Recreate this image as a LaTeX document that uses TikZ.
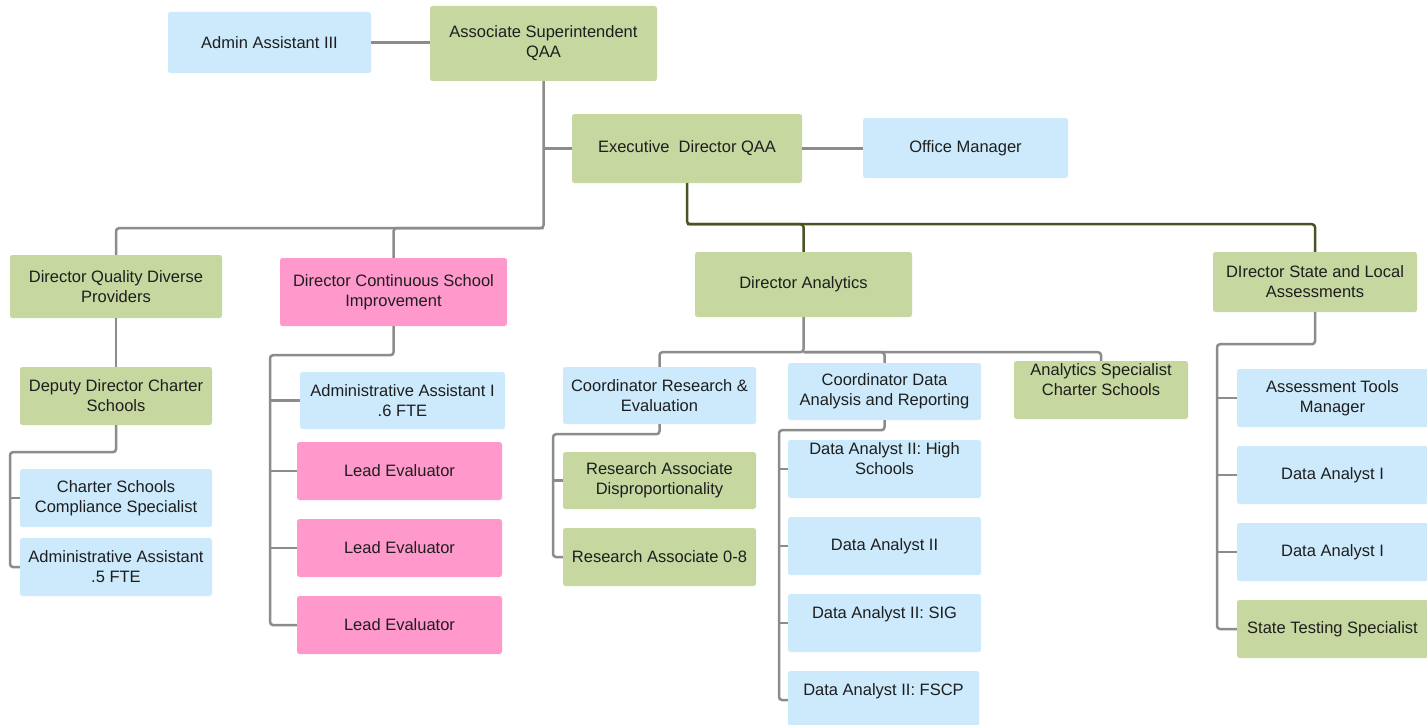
\documentclass[tikz,border=0pt]{standalone}
\usepackage{fontspec}
\setmainfont{Liberation Sans}
\definecolor{boxblue}{RGB}{204,234,252}
\definecolor{boxgreen}{RGB}{198,215,160}
\definecolor{boxpink}{RGB}{255,153,204}
\definecolor{linegray}{RGB}{140,140,140}
\definecolor{lineolive}{RGB}{74,83,34}
\definecolor{ink}{RGB}{30,30,30}
\tikzset{
  orgbase/.style={rounded corners=2.5pt, inner sep=2pt, align=center, text=ink,
    font=\fontsize{16.5}{20}\selectfont},
  bluebox/.style={orgbase, fill=boxblue},
  greenbox/.style={orgbase, fill=boxgreen},
  pinkbox/.style={orgbase, fill=boxpink},
  gl/.style={draw=linegray, line width=2.5pt, rounded corners=3pt},
  dl/.style={draw=lineolive, line width=2.5pt, rounded corners=3pt},
}
% #1 style, #2 name, #3 left, #4 top, #5 right, #6 bottom, #7 text
\newcommand\orgnode[7]{%
  \pgfmathsetmacro\orgw{#5-#3}\pgfmathsetmacro\orgh{#6-#4}%
  \node[#1, minimum width=\orgw pt, minimum height=\orgh pt] (#2)
    at ({(#3+#5)/2},{(#4+#6)/2}) {#7};}
\begin{document}
\begin{tikzpicture}[x=1pt,y=-1pt]
\clip (0,0) rectangle (1427,725);
\fill[white] (0,0) rectangle (1427,725);

% top level
\orgnode{bluebox}{aa3}{168}{12}{371}{73}{Admin Assistant III}
\orgnode{greenbox}{asup}{430}{6}{657}{81}{Associate Superintendent\\QAA}
\orgnode{greenbox}{exec}{572}{114}{802}{183}{Executive\ \ Director QAA}
\orgnode{bluebox}{om}{863}{118}{1068}{178}{Office Manager}

% directors
\orgnode{greenbox}{dqdp}{10}{255}{222}{318}{Director Quality Diverse\\Providers}
\orgnode{pinkbox}{dcsi}{280}{258}{507}{326}{Director Continuous School\\Improvement}
\orgnode{greenbox}{dan}{695}{252}{912}{317}{Director Analytics}
\orgnode{greenbox}{dsla}{1213}{252}{1417}{312}{DIrector State and Local\\Assessments}

% diverse providers
\orgnode{greenbox}{ddcs}{20}{367}{212}{425}{Deputy Director Charter\\Schools}
\orgnode{bluebox}{css}{20}{469}{212}{527}{Charter Schools\\Compliance Specialist}
\orgnode{bluebox}{ad5}{20}{538}{212}{596}{Administrative Assistant\\.5 FTE}

% continuous school improvement
\orgnode{bluebox}{ad6}{300}{372}{505}{429}{Administrative Assistant I\\.6 FTE}
\orgnode{pinkbox}{le1}{297}{442}{502}{500}{Lead Evaluator}
\orgnode{pinkbox}{le2}{297}{519}{502}{577}{Lead Evaluator}
\orgnode{pinkbox}{le3}{297}{596}{502}{654}{Lead Evaluator}

% analytics
\orgnode{bluebox}{cre}{563}{367}{756}{424}{Coordinator Research \&\\Evaluation}
\orgnode{bluebox}{cdar}{788}{363}{981}{420}{Coordinator Data\\Analysis and Reporting}
\orgnode{greenbox}{asp}{1014}{361}{1188}{419}{Analytics Specialist\\Charter Schools\\\mbox{}}
\orgnode{greenbox}{rad}{563}{452}{756}{509}{Research Associate\\Disproportionality}
\orgnode{greenbox}{ra08}{563}{528}{756}{586}{Research Associate 0-8}
\orgnode{bluebox}{dahs}{788}{440}{981}{498}{Data Analyst II: High\\Schools\\\mbox{}}
\orgnode{bluebox}{da2}{788}{517}{981}{575}{Data Analyst II}
\orgnode{bluebox}{dasig}{788}{594}{981}{652}{Data Analyst II: SIG\\\mbox{}}
\orgnode{bluebox}{dafs}{788}{671}{979}{729}{Data Analyst II: FSCP\\\mbox{}}

% state and local assessments
\orgnode{bluebox}{atm}{1237}{369}{1428}{427}{Assessment Tools\\Manager}
\orgnode{bluebox}{dai1}{1237}{446}{1428}{504}{Data Analyst I}
\orgnode{bluebox}{dai2}{1237}{523}{1428}{581}{Data Analyst I}
\orgnode{greenbox}{sts}{1237}{600}{1428}{658}{State Testing Specialist}

% connectors
\draw[gl] (aa3.east) -- (aa3.east -| asup.west);
\draw[gl] (asup.south) -- ++(0,147) -| (dqdp.north);
\draw[gl] (asup.south) ++(0,147) -| (dcsi.north);
\draw[gl] (exec.west -| asup.south) -- (exec.west);
\draw[gl] (exec.east) -- (exec.east -| om.west);
\draw[dl] (exec.south) -- ++(0,41) -| (dan.north);
\draw[dl] (exec.south) ++(0,41) -| (dsla.north);

\draw[gl] (dqdp.south) -- (ddcs.north);
\coordinate (xq) at (10,0);
\draw[gl] (ddcs.south) -- ++(0,27) -| (ad5.west -| xq) -- (ad5.west);
\draw[gl] (css.west -| xq) -- (css.west);

\coordinate (xc) at (270,0);
\draw[gl] (dcsi.south) -- ++(0,29) -| (le3.west -| xc) -- (le3.west);
\foreach \n in {ad6,le1,le2} \draw[gl] (\n.west -| xc) -- (\n.west);

\draw[gl] (dan.south) -- ++(0,35) -| (cre.north);
\draw[gl] (dan.south) ++(0,35) -| (cdar.north);
\draw[gl] (dan.south) ++(0,35) -| (asp.north);

\coordinate (xr) at (553,0);
\draw[gl] (cre.south) -- ++(0,10) -| (ra08.west -| xr) -- (ra08.west);
\draw[gl] (rad.west -| xr) -- (rad.west);

\coordinate (xd) at (779,0);
\draw[gl] (cdar.south) -- ++(0,10) -| (dafs.west -| xd) -- (dafs.west);
\foreach \n in {dahs,da2,dasig} \draw[gl] (\n.west -| xd) -- (\n.west);

\coordinate (xs) at (1217,0);
\draw[gl] (dsla.south) -- ++(0,32) -| (sts.west -| xs) -- (sts.west);
\foreach \n in {atm,dai1,dai2} \draw[gl] (\n.west -| xs) -- (\n.west);
\end{tikzpicture}
\end{document}
